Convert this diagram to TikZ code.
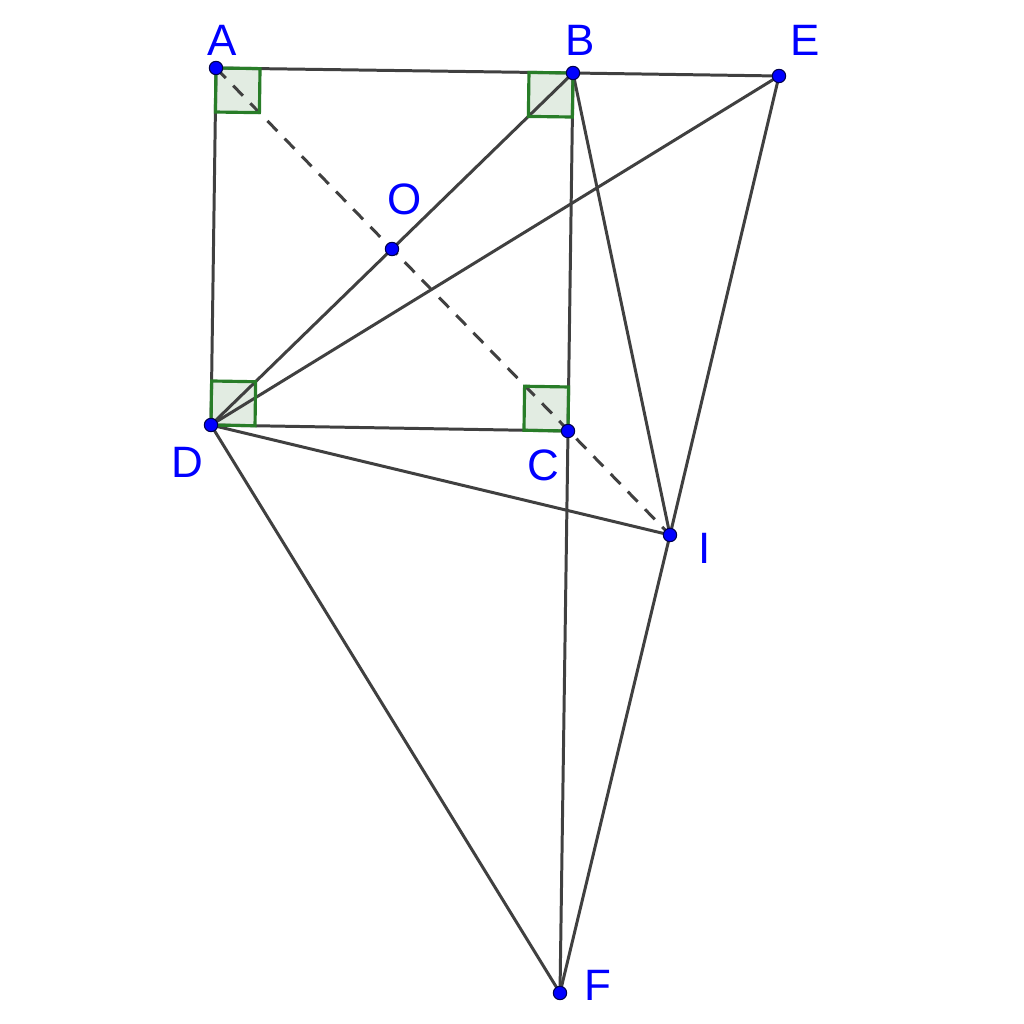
\documentclass[tikz,border=0pt]{standalone}
\usepackage{fontspec}
\setmainfont{Liberation Sans}
\usetikzlibrary{calc}
\definecolor{seg}{RGB}{64,64,64}
\definecolor{ptblue}{RGB}{0,0,255}
\definecolor{ragreen}{RGB}{40,125,40}
\definecolor{rafill}{RGB}{226,236,226}
\tikzset{
  seg/.style={draw=seg, line width=0.85pt},
  dashseg/.style={draw=seg, line width=0.85pt, dash pattern=on 4pt off 3pt},
  ramfill/.style={fill=rafill},
  ramline/.style={draw=ragreen, line width=0.9pt},
  pt/.style={circle, fill=ptblue, draw=black!70!blue, line width=0.3pt, inner sep=0pt, minimum size=3.8pt},
  lbl/.style={text=ptblue, font=\fontsize{12.5}{14}\selectfont, inner sep=0pt}
}
\newcommand\ramark[4]{%
  \path[#4] (#1) -- ($(#1)!0.44cm!(#2)$) -- ($($(#1)!0.44cm!(#2)$)+($(#1)!0.44cm!(#3)$)-(#1)$) -- ($(#1)!0.44cm!(#3)$) -- cycle;}
\begin{document}
\begin{tikzpicture}[x=0.01cm, y=-0.01cm]
\useasboundingbox (0,0) rectangle (1024,1024);
\coordinate (A) at (216,68);
\coordinate (B) at (573,73);
\coordinate (E) at (779,76);
\coordinate (O) at (392,249);
\coordinate (D) at (211,425);
\coordinate (C) at (568,431);
\coordinate (I) at (670,535);
\coordinate (F) at (560,993);
% right angle fills
\ramark{A}{B}{D}{ramfill}
\ramark{B}{A}{C}{ramfill}
\ramark{D}{A}{C}{ramfill}
\ramark{C}{D}{B}{ramfill}
% segments
\draw[seg] (A) -- (B);
\draw[seg] (B) -- (E);
\draw[seg] (A) -- (D);
\draw[seg] (D) -- (C);
\draw[seg] (B) -- (C);
\draw[seg] (C) -- (F);
\draw[seg] (D) -- (B);
\draw[seg] (D) -- (E);
\draw[seg] (D) -- (I);
\draw[seg] (D) -- (F);
\draw[seg] (B) -- (I);
\draw[seg] (E) -- (I);
\draw[seg] (I) -- (F);
\draw[dashseg] (A) -- (I);
% right angle outlines
\ramark{A}{B}{D}{ramline}
\ramark{B}{A}{C}{ramline}
\ramark{D}{A}{C}{ramline}
\ramark{C}{D}{B}{ramline}
% points
\foreach \p in {A,B,E,O,D,C,I,F} \node[pt] (dot\p) at (\p) {};
% labels
\node[lbl] (lA) at (222,40) {A};
\node[lbl] (lB) at (580,40) {B};
\node[lbl] (lE) at (805,40) {E};
\node[lbl] (lO) at (405,199) {O};
\node[lbl] (lD) at (187,462) {D};
\node[lbl] (lC) at (543,465) {C};
\node[lbl] (lI) at (705,548) {I};
\node[lbl] (lF) at (598,985) {F};
\end{tikzpicture}
\end{document}
